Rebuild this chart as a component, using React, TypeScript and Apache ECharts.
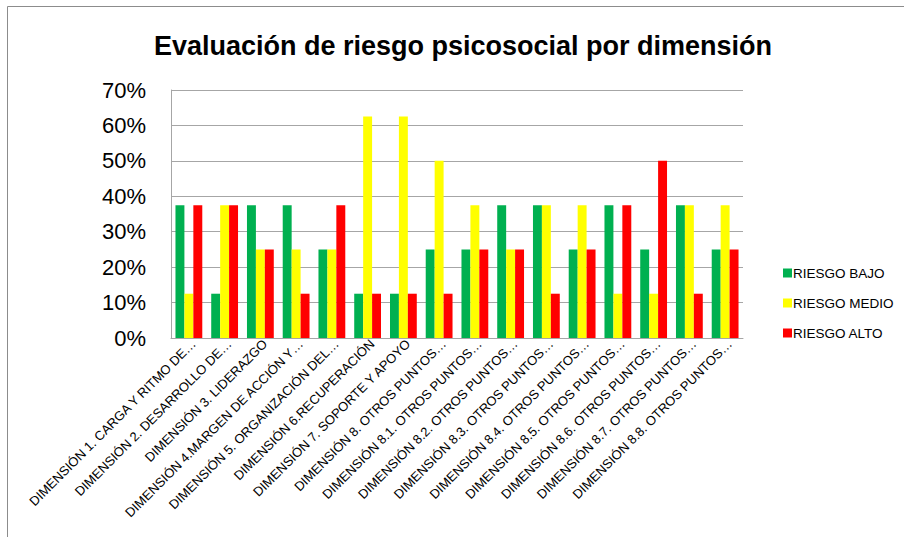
import React, { useEffect, useRef } from "react";
import * as echarts from "echarts";

const categories = [
  "DIMENSIÓN 1. CARGA Y RITMO DE…",
  "DIMENSIÓN 2. DESARROLLO DE…",
  "DIMENSIÓN 3. LIDERAZGO",
  "DIMENSIÓN 4.MARGEN DE ACCIÓN Y…",
  "DIMENSIÓN 5. ORGANIZACIÓN DEL…",
  "DIMENSIÓN 6.RECUPERACIÓN",
  "DIMENSIÓN 7. SOPORTE Y APOYO",
  "DIMENSIÓN 8. OTROS PUNTOS…",
  "DIMENSIÓN 8.1. OTROS PUNTOS…",
  "DIMENSIÓN 8.2. OTROS PUNTOS…",
  "DIMENSIÓN 8.3. OTROS PUNTOS…",
  "DIMENSIÓN 8.4. OTROS PUNTOS…",
  "DIMENSIÓN 8.5. OTROS PUNTOS…",
  "DIMENSIÓN 8.6. OTROS PUNTOS…",
  "DIMENSIÓN 8.7. OTROS PUNTOS…",
  "DIMENSIÓN 8.8. OTROS PUNTOS…",
];

const riesgoBajo = [37.5, 12.5, 37.5, 37.5, 25, 12.5, 12.5, 25, 25, 37.5, 37.5, 25, 37.5, 25, 37.5, 25];
const riesgoMedio = [12.5, 37.5, 25, 25, 25, 62.5, 62.5, 50, 37.5, 25, 37.5, 37.5, 12.5, 12.5, 37.5, 37.5];
const riesgoAlto = [37.5, 37.5, 25, 12.5, 37.5, 12.5, 12.5, 12.5, 25, 25, 12.5, 25, 37.5, 50, 12.5, 25];

const seriesNames = ["RIESGO BAJO", "RIESGO MEDIO", "RIESGO ALTO"];
const seriesColors = ["#00B050", "#FFFF00", "#FF0000"];

const FONT = "Liberation Sans, Arial, sans-serif";

export default function App() {
  const ref = useRef<HTMLDivElement>(null);
  useEffect(() => {
    document.body.style.margin = "0";
    const chart = echarts.init(ref.current!, null, { renderer: "svg" });
    const data = [riesgoBajo, riesgoMedio, riesgoAlto];
    chart.setOption({
      animation: false,
      backgroundColor: "#ffffff",
      title: {
        text: "Evaluación de riesgo psicosocial por dimensión",
        left: 458,
        top: 27,
        textAlign: "center",
        textStyle: { fontFamily: FONT, fontSize: 27, fontWeight: "bold", color: "#000" },
      },
      graphic: [
        {
          type: "rect",
          shape: { x: 7.5, y: 6.5, width: 1000, height: 1000 },
          style: { fill: "none", stroke: "#8c8c8c", lineWidth: 1 },
          silent: true,
        },
      ],
      legend: {
        orient: "vertical",
        left: 778,
        top: 261,
        itemGap: 16,
        itemWidth: 9,
        itemHeight: 9,
        icon: "rect",
        textStyle: {
          fontFamily: FONT,
          fontSize: 13.5,
          lineHeight: 14,
          color: "#000",
          padding: [0, 0, 0, -4],
        },
        data: seriesNames,
      },
      grid: { left: 171, right: 904 - 743, top: 90, bottom: 537 - 338, containLabel: false },
      xAxis: {
        type: "category",
        data: categories,
        axisLine: { lineStyle: { color: "#a6a6a6", width: 1 } },
        axisTick: { show: false },
        axisLabel: {
          rotate: 45,
          interval: 0,
          margin: -1,
          verticalAlign: "top",
          fontFamily: FONT,
          fontSize: 13,
          color: "#000",
        },
      },
      yAxis: {
        type: "value",
        min: 0,
        max: 70,
        interval: 10,
        axisLine: { show: true, lineStyle: { color: "#a6a6a6", width: 1 } },
        axisTick: { show: false },
        splitLine: { lineStyle: { color: "#a6a6a6", width: 1 } },
        axisLabel: {
          formatter: "{value}%",
          fontFamily: FONT,
          fontSize: 22,
          color: "#000",
          margin: 25,
        },
      },
      series: seriesNames.map((name, i) => ({
        name,
        type: "bar",
        data: data[i],
        itemStyle: { color: seriesColors[i] },
        barGap: "0%",
        barCategoryGap: "25%",
      })),
    });
    return () => chart.dispose();
  }, []);
  return <div ref={ref} style={{ width: 904, height: 537 }} />;
}
